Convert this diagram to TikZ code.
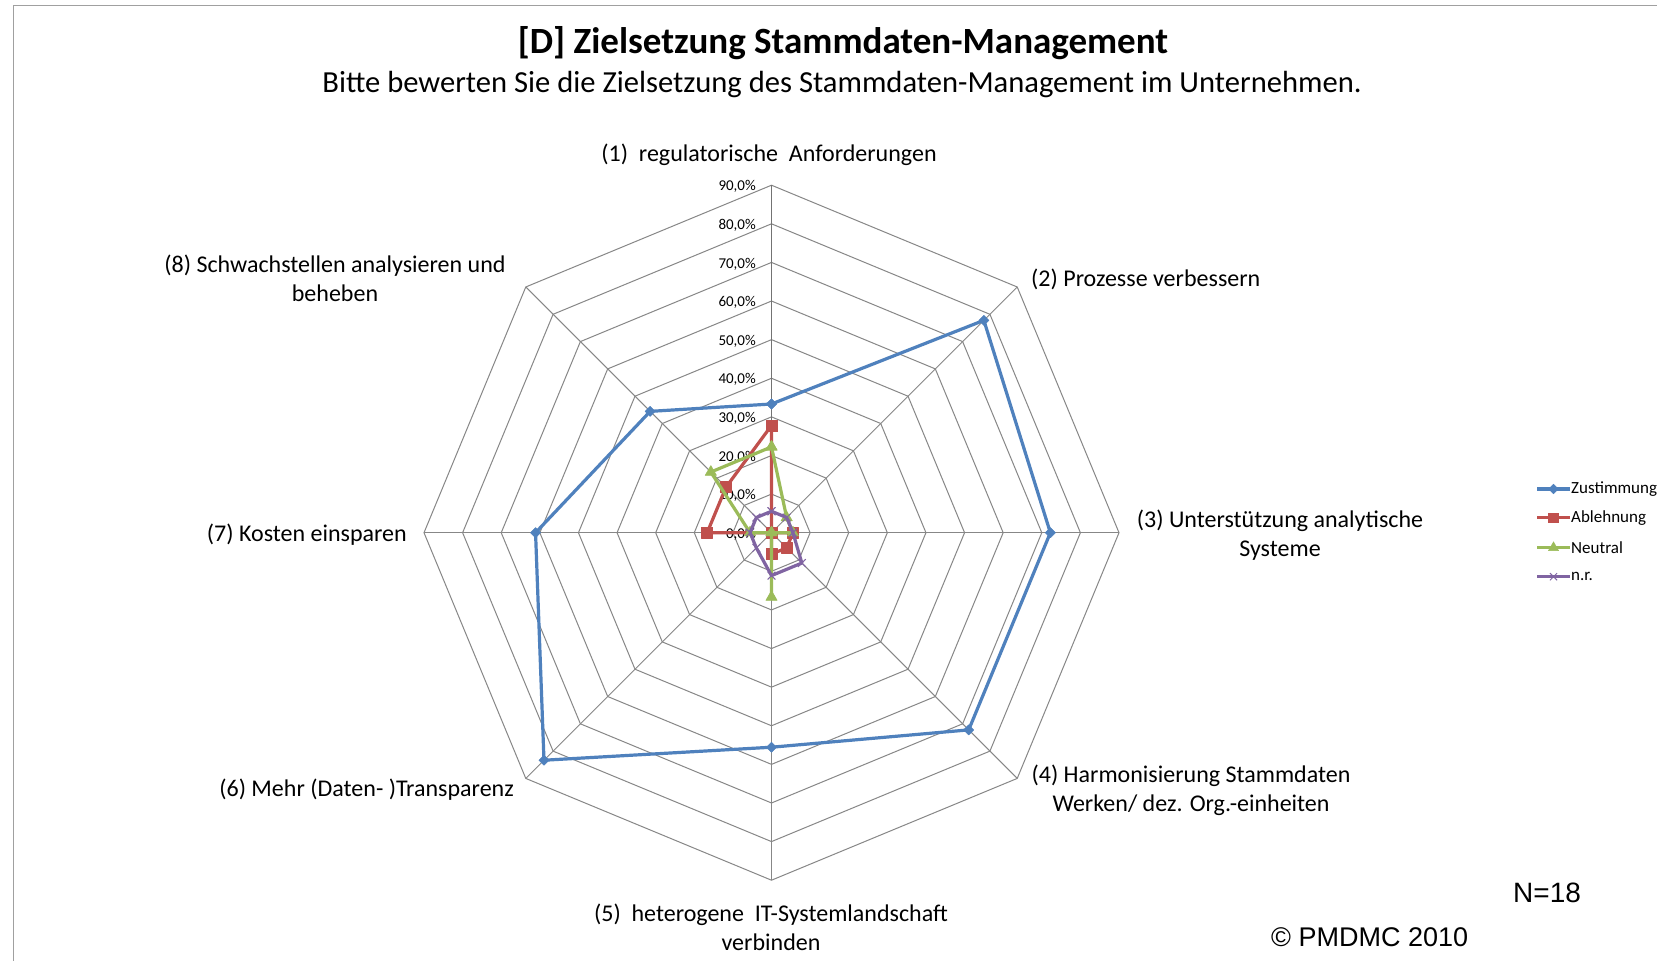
\documentclass[tikz,border=0pt]{standalone}
\usepackage{fontspec}
\setmainfont{Carlito}
\newfontfamily\arialf{Liberation Sans}
\usetikzlibrary{plotmarks}
\definecolor{serA}{HTML}{4F81BD}
\definecolor{serB}{HTML}{C0504D}
\definecolor{serC}{HTML}{9BBB59}
\definecolor{serD}{HTML}{8064A2}
\definecolor{gridc}{HTML}{878787}
\definecolor{framec}{HTML}{A0A0A0}
\begin{document}
\begin{tikzpicture}[x=1pt,y=-1pt,
  lbl/.style={inner sep=0pt, font=\fontsize{24}{29}\selectfont, align=center},
  ticklbl/.style={inner sep=0pt, anchor=east, font=\fontsize{15}{17}\selectfont},
  leg/.style={inner sep=0pt, anchor=west, font=\fontsize{17}{19}\selectfont},
  gridline/.style={draw=gridc, line width=1pt},
  ser/.style={line width=3.2pt, line join=round},
  mA/.style={mark=square*, mark size=3.6pt, mark options={rotate=45, fill=serA, draw=serA, line width=0.5pt}},
  mB/.style={mark=square*, mark size=5.5pt, mark options={fill=serB, draw=serB, line width=0.5pt}},
  mC/.style={mark=triangle*, mark size=6.5pt, mark options={fill=serC, draw=serC, line width=0.5pt}},
  mD/.style={mark=x, mark size=5.5pt, mark options={draw=serD, line width=1pt}},
  ]
\useasboundingbox (0,0) rectangle (1657,961);
\fill[white] (0,0) rectangle (1657,961);
\draw[framec, line width=1.5pt] (13.3,961) -- (13.3,5.5) -- (1657,5.5);

\node[inner sep=0pt, anchor=base, font=\bfseries\fontsize{37}{44}\selectfont] (title) at (843,53) {[D] Zielsetzung Stammdaten-Management};
\node[inner sep=0pt, anchor=base, font=\fontsize{30.6}{37}\selectfont] (sub) at (842,92) {Bitte bewerten Sie die Zielsetzung des Stammdaten-Management im Unternehmen.};

\begin{scope}[shift={(771.5,532.7)}]
  \foreach \i in {1,...,9} {
    \pgfmathsetmacro\r{\i*38.611}
    \draw[gridline] (-90:\r) -- (-45:\r) -- (0:\r) -- (45:\r) -- (90:\r) -- (135:\r) -- (180:\r) -- (225:\r) -- cycle;
  }
  \coordinate (c0) at (0,0);
  \foreach \a/\n in {-45/2,0/3,45/4,90/5,135/6,180/7,225/8} {
    \coordinate (sp\n) at (\a:347.5);
    \draw[gridline] (c0) -- (sp\n);
  }
  \coordinate (sp1) at (-90:347.5);
  \draw[draw=gridc!85!black, line width=1.3pt] (c0) -- (sp1);
  \foreach \i/\t in {0/0,1/10,2/20,3/30,4/40,5/50,6/60,7/70,8/80,9/90} {
    \node[ticklbl] (t\i) at (-15.5,{-\i*38.611+1.5}) {\t,0\%};
  }
  % series
  \draw[ser, serA] plot[mA] coordinates {(-90:128.70) (-45:300.31) (0:278.86) (45:278.86) (90:214.51) (135:321.76) (180:235.96) (225:171.60) (-90:128.70)};
  \draw[ser, serB] plot[mB] coordinates {(-90:107.25) (-45:0) (0:21.45) (45:21.45) (90:21.45) (135:0) (180:64.35) (225:64.35) (-90:107.25)};
  \draw[ser, serC] plot[mC] coordinates {(-90:85.80) (-45:21.45) (0:21.45) (45:0) (90:64.35) (135:0) (180:21.45) (225:85.80) (-90:85.80)};
  \draw[ser, serD] plot[mD] coordinates {(-90:21.45) (-45:21.45) (0:21.45) (45:42.90) (90:42.90) (135:21.45) (180:21.45) (225:21.45) (-90:21.45)};
\end{scope}

% axis labels
\node[lbl] (l1) at (769,155) {(1)~~regulatorische~~Anforderungen};
\node[lbl, anchor=west] (l2) at (1031,279) {(2) Prozesse verbessern};
\node[lbl] (l3) at (1280,534.7) {(3) Unterstützung analytische\\Systeme};
\node[lbl] (l4) at (1191,790) {(4) Harmonisierung Stammdaten\\Werken/ dez. Org.-einheiten};
\node[lbl] (l5) at (771,927) {(5)~~heterogene~~IT-Systemlandschaft\\verbinden};
\node[lbl, anchor=east] (l6) at (514,790) {(6) Mehr (Daten- )Transparenz};
\node[lbl, anchor=east] (l7) at (407,534.6) {(7) Kosten einsparen};
\node[lbl] (l8) at (335,278) {(8) Schwachstellen analysieren und\\beheben};

% legend
\draw[serA, line width=3.2pt] (1537,489) coordinate (la1) -- (1570,489) coordinate (lb1);
\draw[serA] plot[mA, mark size=3.4pt] coordinates {(1553.5,489)};
\node[leg] (lt1) at (1571,489) {Zustimmung};
\draw[serB, line width=3.2pt] (1537,517.7) coordinate (la2) -- (1570,517.7) coordinate (lb2);
\draw[serB] plot[mB, mark size=4.8pt] coordinates {(1553.5,517.7)};
\node[leg] (lt2) at (1571,517.7) {Ablehnung};
\draw[serC, line width=3.2pt] (1537,547.7) coordinate (la3) -- (1570,547.7) coordinate (lb3);
\draw[serC] plot[mC, mark size=5.8pt] coordinates {(1553.5,547.7)};
\node[leg] (lt3) at (1571,547.7) {Neutral};
\draw[serD, line width=3.2pt] (1537,576.7) coordinate (la4) -- (1570,576.7) coordinate (lb4);
\draw[serD] plot[mD, mark size=5pt] coordinates {(1553.5,576.7)};
\node[leg] (lt4) at (1571,576.7) {n.r.};

\node[inner sep=0pt, anchor=west, font=\arialf\fontsize{28}{32}\selectfont] (nn) at (1513,893) {N=18};
\node[inner sep=0pt, anchor=west, font=\arialf\fontsize{27}{32}\selectfont] (copy) at (1271,937) {© PMDMC 2010};
\end{tikzpicture}
\end{document}
